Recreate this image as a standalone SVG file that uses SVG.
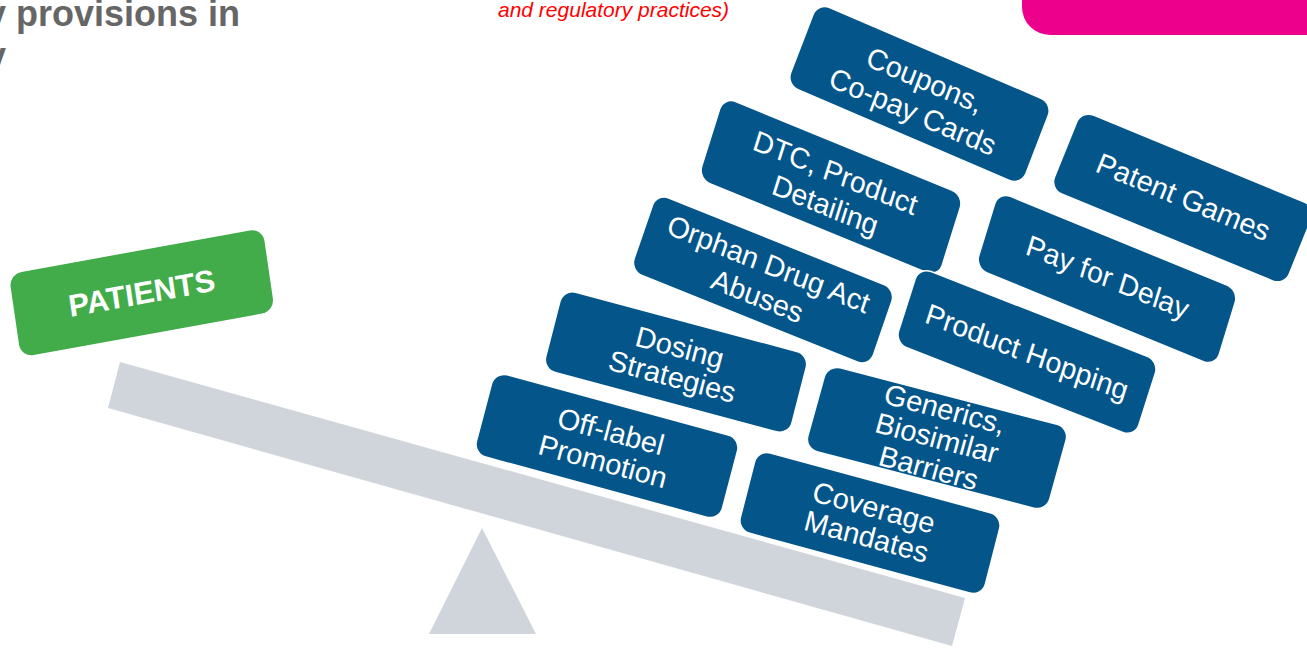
<svg xmlns="http://www.w3.org/2000/svg" width="1307" height="649" viewBox="0 0 1307 649">
<style>
.box{fill:#04568A;stroke:#ffffff;stroke-width:1.5}
.lbl{font-family:"Liberation Sans",Arial,sans-serif;font-size:29px;fill:#ffffff;text-anchor:middle}
.title{font-family:"Liberation Sans",Arial,sans-serif;font-size:36px;font-weight:bold;fill:#666666}
.note{font-family:"Liberation Sans",Arial,sans-serif;font-size:21px;font-style:italic;fill:#FF0000}
</style>
<rect width="1307" height="649" fill="#ffffff"/>
<text class="title" x="-14" y="26">y provisions in</text>
<text class="title" x="-14" y="68">y</text>
<text class="note" x="498" y="17">and regulatory practices)</text>
<path d="M1022 0 H1307 V35 H1050 A28 28 0 0 1 1022 7 Z" fill="#EC008C"/>
<g id="seesaw">
<polygon points="120,362 965,598 952,646 108,408" fill="#D0D5DB"/>
<polygon points="482,528 536,634 429,634" fill="#D0D5DB"/>
</g>
<g id="patients" transform="matrix(0.9839 -0.1788 0.1444 0.9895 141.75 292.75)">
<rect x="-129" y="-42" width="258" height="84" rx="13" fill="#42AC4A"/>
<text class="lbl" x="0" y="11" style="font-weight:bold;font-size:31px">PATIENTS</text>
</g>
<g id="coupons" transform="matrix(0.9191 0.3939 -0.3584 0.9336 919.5 94)">
<rect class="box" x="-128" y="-44" width="256" height="88" rx="13"/>
<text class="lbl" x="0" y="-5">Coupons,</text>
<text class="lbl" x="0" y="29">Co-pay Cards</text>
</g>
<g id="patent-games" transform="matrix(0.9245 0.3811 -0.3746 0.9272 1183 198)">
<rect class="box" x="-127" y="-42.5" width="254" height="85" rx="13"/>
<text class="lbl" x="0" y="9">Patent Games</text>
</g>
<g id="dtc" transform="matrix(0.9252 0.3795 -0.2990 0.9542 831 187)">
<rect class="box" x="-130" y="-43" width="260" height="86" rx="13"/>
<text class="lbl" x="0" y="-5">DTC, Product</text>
<text class="lbl" x="0" y="29">Detailing</text>
</g>
<g id="pay-for-delay" transform="matrix(0.9252 0.3795 -0.2924 0.9563 1107 279)">
<rect class="box" x="-130" y="-40" width="260" height="80" rx="13"/>
<text class="lbl" x="0" y="8">Pay for Delay</text>
</g>
<g id="orphan" transform="matrix(0.9278 0.3730 -0.3256 0.9455 763 280)">
<rect class="box" x="-129" y="-41" width="258" height="82" rx="13"/>
<text class="lbl" x="0" y="-7">Orphan Drug Act</text>
<text class="lbl" x="0" y="27">Abuses</text>
</g>
<g id="product-hopping" transform="matrix(0.9311 0.3649 -0.3040 0.9527 1027 352)">
<rect class="box" x="-129" y="-40" width="258" height="80" rx="13"/>
<text class="lbl" x="0" y="10">Product Hopping</text>
</g>
<g id="dosing" transform="matrix(0.9659 0.2588 -0.2487 0.9686 676 362)">
<rect class="box" x="-127.5" y="-41.5" width="255" height="83" rx="13"/>
<text class="lbl" x="0" y="-5">Dosing</text>
<text class="lbl" x="0" y="25">Strategies</text>
</g>
<g id="generics" transform="matrix(0.9677 0.2521 -0.2672 0.9636 937 438)">
<rect class="box" x="-125" y="-43.5" width="250" height="87" rx="13"/>
<text class="lbl" x="0" y="-20">Generics,</text>
<text class="lbl" x="0" y="10">Biosimilar</text>
<text class="lbl" x="0" y="41">Barriers</text>
</g>
<g id="off-label" transform="matrix(0.9650 0.2622 -0.2538 0.9673 607 446)">
<rect class="box" x="-127.5" y="-42.5" width="255" height="85" rx="13"/>
<text class="lbl" x="0" y="-5">Off-label</text>
<text class="lbl" x="0" y="26">Promotion</text>
</g>
<g id="coverage" transform="matrix(0.9650 0.2622 -0.2487 0.9686 870 523)">
<rect class="box" x="-127" y="-41.5" width="254" height="83" rx="13"/>
<text class="lbl" x="0" y="-6">Coverage</text>
<text class="lbl" x="0" y="24">Mandates</text>
</g>
<g id="connectors"/>
</svg>
